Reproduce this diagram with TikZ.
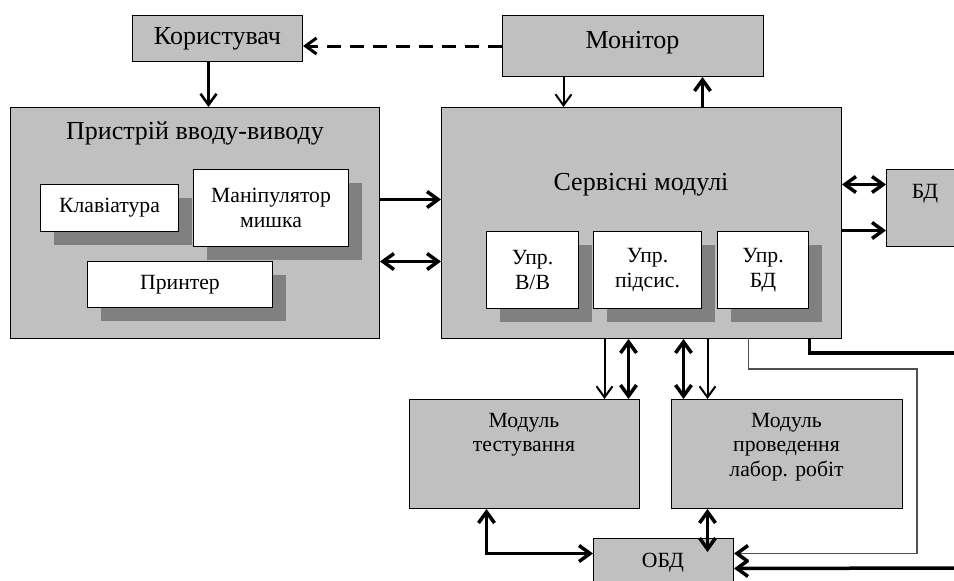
\documentclass[tikz,border=0pt]{standalone}
\usepackage{fontspec}
\setmainfont{Liberation Serif}
\usetikzlibrary{arrows.meta,shadows}
\definecolor{boxgray}{RGB}{192,192,192}
\definecolor{shadowgray}{RGB}{128,128,128}
\definecolor{wiregray}{RGB}{80,80,80}
\tikzset{
  bigfont/.style={font=\fontsize{26}{30}\selectfont},
  smallfont/.style={font=\fontsize{21.7}{24.5}\selectfont},
  graybox/.style={draw=black, line width=1pt, fill=boxgray, inner sep=0pt, anchor=north west, align=center},
  whitebox/.style={draw=black, line width=1pt, fill=white, inner sep=0pt, anchor=north west, align=center, smallfont,
    general shadow={fill=shadowgray, shadow xshift=13pt, shadow yshift=-13pt}},
  txt/.style={inner sep=0pt, anchor=base, align=center},
  thinarr/.style={line width=2pt, ->},
  medarr/.style={line width=2.6pt, ->},
  thickarr/.style={line width=3.5pt, ->},
  thickdbl/.style={line width=3.5pt, <->},
  thickline/.style={line width=3.5pt},
  dasharr/.style={line width=3pt, dash pattern=on 14pt off 9pt, ->},
  wire/.style={line width=1.5pt, draw=wiregray,
    -{Straight Barb[length=11pt,width=16pt,line width=3.5pt,color=black]}},
}
\begin{document}
\begin{tikzpicture}[x=1pt,y=-1pt,>={Straight Barb[length=11pt,width=16pt]}]
\useasboundingbox (0,0) rectangle (954,581);
\clip (0,0) rectangle (954,581);

% top boxes
\node[graybox, minimum width=170pt, minimum height=46pt, bigfont] (kor) at (132,15) {Користувач};
\node[graybox, minimum width=261pt, minimum height=61pt] (mon) at (502,15) {};
\node[txt, bigfont] (montxt) at (632.5,48) {Монітор};

% main containers
\node[graybox, minimum width=369pt, minimum height=231pt] (pry) at (10,107) {};
\node[txt, bigfont] (prytxt) at (195,139) {Пристрій вводу-виводу};
\node[graybox, minimum width=400pt, minimum height=231pt] (ser) at (441,107) {};
\node[txt, bigfont] (sertxt) at (641,190) {Сервісні модулі};
\node[graybox, minimum width=120pt, minimum height=77pt] (bd) at (886,169) {};
\node[txt, smallfont] (bdtxt) at (925,198) {БД};

% white boxes with shadows
\node[whitebox, minimum width=138pt, minimum height=47pt] (kla) at (40,184) {Клавіатура};
\node[whitebox, minimum width=155pt, minimum height=77pt] (man) at (193,169) {Маніпулятор\\мишка};
\node[whitebox, minimum width=185pt, minimum height=46pt] (pri) at (87,261) {Принтер};
\node[whitebox, minimum width=92pt, minimum height=77pt] (uvv) at (486,231) {Упр.\\В/В};
\node[whitebox, minimum width=108pt, minimum height=77pt] (ups) at (593,231) {Упр.\\підсис.};
\node[whitebox, minimum width=91pt, minimum height=77pt] (ubd) at (717,231) {Упр.\\БД};

% lower modules
\node[graybox, minimum width=230pt, minimum height=109pt] (mt) at (409,399) {};
\node[txt, smallfont, anchor=north] (mttxt) at (524,413) {Модуль\\тестування};
\node[graybox, minimum width=231pt, minimum height=109pt] (ml) at (671,399) {};
\node[txt, smallfont, anchor=north] (mltxt) at (786.5,413) {Модуль\\проведення\\лабор. робіт};
\node[graybox, minimum width=140pt, minimum height=82pt] (obd) at (593,538) {};
\node[txt, smallfont] (obdtxt) at (663,567) {ОБД};

% connectors
\draw[dasharr] (mon.west) -- (mon.west -| kor.east);
\draw[medarr] ([xshift=-9pt]kor.south) -- ([xshift=-9pt]kor.south |- pry.north);
\draw[thinarr] ([xshift=-69.5pt]mon.south) -- ([xshift=-69.5pt]mon.south |- ser.north);
\draw[thickarr] ([xshift=69.5pt]mon.south |- ser.north) -- ([xshift=69.5pt]mon.south);

\draw[thickarr] ([yshift=23.5pt]pry.east) -- ([yshift=23.5pt]pry.east -| ser.west);
\draw[thickdbl] ([yshift=-38.5pt]pry.east) -- ([yshift=-38.5pt]pry.east -| ser.west);

\draw[thickdbl] ([yshift=38.5pt]ser.east) -- ([yshift=38.5pt]ser.east -| bd.west);
\draw[thickarr] ([yshift=-7.5pt]ser.east) -- ([yshift=-7.5pt]ser.east -| bd.west);

\draw[thinarr] ([xshift=-37pt]ser.south) -- ([xshift=-37pt]ser.south |- mt.north);
\draw[thickdbl] ([xshift=-13pt]ser.south) -- ([xshift=-13pt]ser.south |- mt.north);
\draw[thickdbl] ([xshift=42pt]ser.south) -- ([xshift=42pt]ser.south |- ml.north);
\draw[thinarr] ([xshift=66pt]ser.south) -- ([xshift=66pt]ser.south |- ml.north);

\coordinate (g1) at (917,369);
\draw[wire] ([xshift=107pt]ser.south) |- (g1) |- ([yshift=26pt]obd.east);
\coordinate (e1) at (960,353);
\draw[thickline] ([xshift=168pt]ser.south) |- (e1);
\coordinate (e2) at (960,568);
\draw[thickarr] (e2) -- ([yshift=11pt]obd.east);

\draw[thickdbl] ([xshift=-38pt]mt.south) |- ([yshift=26pt]obd.west);
\draw[thickdbl] ([xshift=-79.5pt]ml.south) -- ([xshift=44pt,yshift=-14pt]obd.north);
\end{tikzpicture}
\end{document}
